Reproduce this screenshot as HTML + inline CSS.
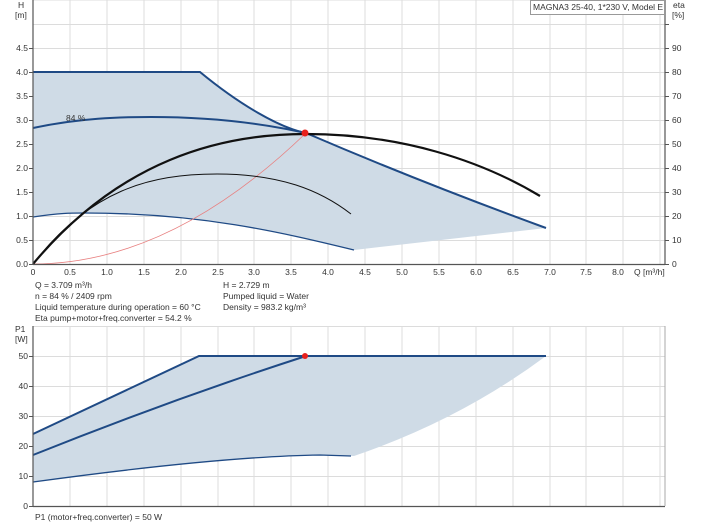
<!DOCTYPE html>
<html><head><meta charset="utf-8"><style>
body{margin:0;background:#fff;width:704px;height:528px;overflow:hidden}
svg{display:block;font-family:"Liberation Sans",sans-serif;}
text{font-size:8.5px;fill:#333}
</style></head><body>
<svg width="704" height="528" viewBox="0 0 704 528" xmlns="http://www.w3.org/2000/svg">
<g stroke="#dcdcdc" stroke-width="1">
<line x1="33" y1="24.5" x2="665" y2="24.5"/><line x1="33" y1="48.5" x2="665" y2="48.5"/>
<line x1="33" y1="72.5" x2="665" y2="72.5"/><line x1="33" y1="96.5" x2="665" y2="96.5"/>
<line x1="33" y1="120.5" x2="665" y2="120.5"/><line x1="33" y1="144.5" x2="665" y2="144.5"/>
<line x1="33" y1="168.5" x2="665" y2="168.5"/><line x1="33" y1="192.5" x2="665" y2="192.5"/>
<line x1="33" y1="216.5" x2="665" y2="216.5"/><line x1="33" y1="240.5" x2="665" y2="240.5"/>
<line x1="33" y1="326.5" x2="665" y2="326.5"/><line x1="33" y1="356.5" x2="665" y2="356.5"/>
<line x1="33" y1="386.5" x2="665" y2="386.5"/><line x1="33" y1="416.5" x2="665" y2="416.5"/>
<line x1="33" y1="446.5" x2="665" y2="446.5"/><line x1="33" y1="476.5" x2="665" y2="476.5"/>
<line x1="33" y1="0" x2="665" y2="0"/>
</g>
<g stroke="#dcdcdc" stroke-width="1" id="vg">
<path d="M70 0V264M107 0V264M144 0V264M181 0V264M218 0V264M254 0V264M291 0V264M328 0V264M365 0V264M402 0V264M439 0V264M476 0V264M513 0V264M550 0V264M586 0V264M623 0V264M660 0V264"/>
<path d="M70 326V506M107 326V506M144 326V506M181 326V506M218 326V506M254 326V506M291 326V506M328 326V506M365 326V506M402 326V506M439 326V506M476 326V506M513 326V506M550 326V506M586 326V506M623 326V506M660 326V506"/>
</g>
<!-- top fill -->
<path d="M33,72 L200,72 C240,105 280,128 306,133 Q420,182 546,228 L354,250 C280,232 200,213 85,213 C70,213 60,213 33,217 Z" fill="#cfdbe6"/>
<path d="M33,72 L200,72 C240,105 280,128 306,133 Q420,182 546,228" fill="none" stroke="#1f4a85" stroke-width="2"/>
<path d="M33,128 C80,118 120,117 151,117 C220,117 270,125 306,133" fill="none" stroke="#1f4a85" stroke-width="2"/>
<path d="M33,217 C60,213 70,213 85,213 C200,213 280,232 354,250" fill="none" stroke="#1f4a85" stroke-width="1.3"/>
<path d="M33,264 Q170,264 306,133" fill="none" stroke="#e88080" stroke-width="0.8"/>
<path d="M33,264 C90,190 150,174 217,174 C280,174 320,190 351,214" fill="none" stroke="#111" stroke-width="1"/>
<path d="M33,264 C120,160 220,134 306,134 C400,134 480,160 540,196" fill="none" stroke="#111" stroke-width="2.2"/>
<circle cx="305" cy="133" r="3.5" fill="#e8201c"/>
<text x="66" y="121" font-size="8.5">84 %</text>
<!-- axes top -->
<g stroke="#555" stroke-width="1.2"><line x1="33" y1="0" x2="33" y2="264"/><line x1="33" y1="264.5" x2="665" y2="264.5"/><line x1="665" y1="0" x2="665" y2="264"/></g>
<g stroke="#555"><path d="M29 48.5h4M29 72.5h4M29 96.5h4M29 120.5h4M29 144.5h4M29 168.5h4M29 192.5h4M29 216.5h4M29 240.5h4M29 264.5h4M665 24.5h4M665 48.5h4M665 72.5h4M665 96.5h4M665 120.5h4M665 144.5h4M665 168.5h4M665 192.5h4M665 216.5h4M665 240.5h4M665 264.5h4"/></g>
<g text-anchor="end">
<text x="28" y="51">4.5</text><text x="28" y="75">4.0</text><text x="28" y="99">3.5</text><text x="28" y="123">3.0</text><text x="28" y="147">2.5</text><text x="28" y="171">2.0</text><text x="28" y="195">1.5</text><text x="28" y="219">1.0</text><text x="28" y="243">0.5</text><text x="28" y="267">0.0</text>
</g>
<text x="18" y="8">H</text><text x="15" y="18">[m]</text>
<g><text x="672" y="51">90</text><text x="672" y="75">80</text><text x="672" y="99">70</text><text x="672" y="123">60</text><text x="672" y="147">50</text><text x="672" y="171">40</text><text x="672" y="195">30</text><text x="672" y="219">20</text><text x="672" y="243">10</text><text x="672" y="267">0</text></g>
<text x="673" y="8">eta</text><text x="672" y="18">[%]</text>
<rect x="530.5" y="0.5" width="134" height="14" fill="#fff" stroke="#999"/>
<text x="533" y="10">MAGNA3 25-40, 1*230 V, Model E</text>
<g text-anchor="middle">
<text x="33" y="275">0</text><text x="70" y="275">0.5</text><text x="107" y="275">1.0</text><text x="144" y="275">1.5</text><text x="181" y="275">2.0</text><text x="218" y="275">2.5</text><text x="254" y="275">3.0</text><text x="291" y="275">3.5</text><text x="328" y="275">4.0</text><text x="365" y="275">4.5</text><text x="402" y="275">5.0</text><text x="439" y="275">5.5</text><text x="476" y="275">6.0</text><text x="513" y="275">6.5</text><text x="550" y="275">7.0</text><text x="586" y="275">7.5</text><text x="618" y="275">8.0</text>
</g>
<text x="634" y="275">Q [m³/h]</text>
<text x="35" y="288">Q = 3.709 m³/h</text>
<text x="35" y="299">n = 84 % / 2409 rpm</text>
<text x="35" y="310">Liquid temperature during operation = 60 °C</text>
<text x="35" y="321">Eta pump+motor+freq.converter = 54.2 %</text>
<text x="223" y="288">H = 2.729 m</text>
<text x="223" y="299">Pumped liquid = Water</text>
<text x="223" y="310">Density = 983.2 kg/m³</text>
<!-- bottom chart -->
<path d="M33,434 L199,356 L546,356 Q460,420 354,456 L320,455 C250,456 150,466 33,482 Z" fill="#cfdbe6"/>
<path d="M33,434 L199,356 L546,356" fill="none" stroke="#1f4a85" stroke-width="2"/>
<path d="M33,455 Q170,400 306,356" fill="none" stroke="#1f4a85" stroke-width="2"/>
<path d="M33,482 C150,466 250,456 320,455 L351,456" fill="none" stroke="#1f4a85" stroke-width="1.3"/>
<circle cx="305" cy="356" r="3" fill="#e8201c"/>
<g stroke="#555" stroke-width="1.2"><line x1="33" y1="326" x2="33" y2="506"/><line x1="33" y1="506.5" x2="665" y2="506.5"/></g>
<line x1="665" y1="326" x2="665" y2="506" stroke="#aaa"/>
<g stroke="#555"><path d="M29 356.5h4M29 386.5h4M29 416.5h4M29 446.5h4M29 476.5h4M29 506.5h4"/></g>
<g text-anchor="end"><text x="28" y="359">50</text><text x="28" y="389">40</text><text x="28" y="419">30</text><text x="28" y="449">20</text><text x="28" y="479">10</text><text x="28" y="509">0</text></g>
<text x="15" y="332">P1</text><text x="15" y="342">[W]</text>
<text x="35" y="520">P1 (motor+freq.converter) = 50 W</text>
</svg>
</body></html>
